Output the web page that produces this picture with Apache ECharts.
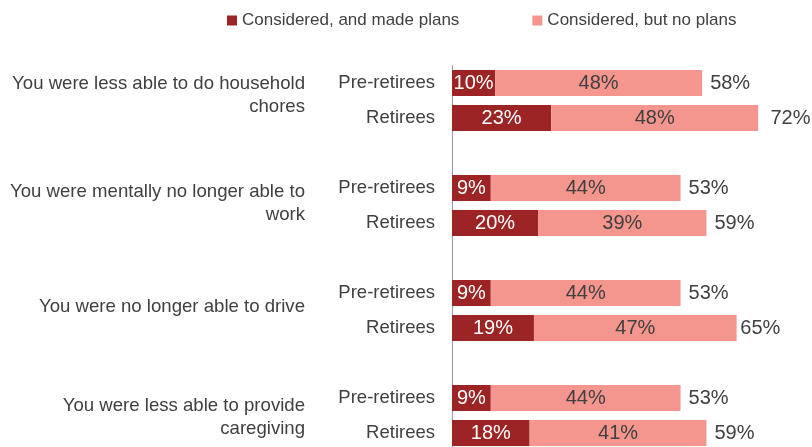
<!DOCTYPE html>
<html>
<head>
<meta charset="utf-8">
<script src="https://cdn.jsdelivr.net/npm/echarts@6/dist/echarts.min.js"></script>
<style>
  html, body { margin: 0; padding: 0; background: #ffffff; }
  #chart { width: 812px; height: 447px; }
</style>
</head>
<body>
<div id="chart"></div>
<script>
// Scenarios asked about, one group of two bars each
const groups = [
  'You were less able to do household\nchores',
  'You were mentally no longer able to\nwork',
  'You were no longer able to drive',
  'You were less able to provide\ncaregiving'
];
const segments = ['Pre-retirees', 'Retirees'];
const seriesNames = ['Considered, and made plans', 'Considered, but no plans'];

// Percent values per group: [pre-retirees, retirees]
const madePlans = [[10, 23], [9, 20], [9, 19], [9, 18]];
const noPlans   = [[48, 48], [44, 39], [44, 47], [44, 41]];
const totals    = [[58, 72], [53, 59], [53, 65], [53, 59]];

const FONT = "'Liberation Sans', Arial, sans-serif";
const TEXT = '#404040';
const DARK = '#9D2424';
const LIGHT = '#F4958E';

// Lay rows out on one category axis, with an empty slot between groups
const rowLabels = [];
const rowMade = [];
const rowNo = [];
const rowTotal = [];
const groupFirstRow = [];
groups.forEach(function (g, gi) {
  if (gi > 0) {
    rowLabels.push('');
    rowMade.push('-');
    rowNo.push('-');
    rowTotal.push('-');
  }
  groupFirstRow.push(rowLabels.length);
  segments.forEach(function (s, si) {
    rowLabels.push(s);
    rowMade.push(madePlans[gi][si]);
    rowNo.push(noPlans[gi][si]);
    rowTotal.push(totals[gi][si]);
  });
});

const chart = echarts.init(document.getElementById('chart'), null, { renderer: 'canvas' });

const pct = function (p) { return p.value + '%'; };

chart.setOption({
  animation: false,
  backgroundColor: '#ffffff',
  textStyle: { fontFamily: FONT },
  legend: {
    data: seriesNames,
    left: 227,
    top: 12,
    padding: 0,
    icon: 'rect',
    itemWidth: 10,
    itemHeight: 10,
    itemGap: 73,
    textStyle: { fontFamily: FONT, fontSize: 17, color: TEXT }
  },
  // the last row runs past the bottom edge, so the grid must not be squeezed to fit
  grid: { left: 452, top: 65.5, width: 345, height: 385, containLabel: false, outerBoundsMode: 'none' },
  xAxis: {
    type: 'value',
    min: 0,
    max: 80,
    show: false
  },
  yAxis: {
    type: 'category',
    inverse: true,
    data: rowLabels,
    axisLine: { show: true, lineStyle: { color: '#999999', width: 1 } },
    axisTick: { show: false },
    axisLabel: { margin: 17, fontFamily: FONT, fontSize: 18.5, color: TEXT }
  },
  series: [
    {
      name: seriesNames[0],
      type: 'bar',
      stack: 'share',
      barWidth: 26,
      barGap: '-100%',
      itemStyle: { color: DARK },
      label: { show: true, position: 'inside', formatter: pct, fontFamily: FONT, fontSize: 20, color: '#ffffff' },
      data: rowMade
    },
    {
      name: seriesNames[1],
      type: 'bar',
      stack: 'share',
      barWidth: 26,
      barGap: '-100%',
      itemStyle: { color: LIGHT },
      label: { show: true, position: 'inside', formatter: pct, fontFamily: FONT, fontSize: 20, color: TEXT },
      data: rowNo
    },
    {
      name: 'Total',
      type: 'bar',
      barWidth: 26,
      barGap: '-100%',
      silent: true,
      z: 1,
      itemStyle: { color: 'rgba(0,0,0,0)' },
      label: { show: true, position: 'right', distance: 8, formatter: pct, fontFamily: FONT, fontSize: 20, color: TEXT },
      data: rowTotal
    }
  ]
});

// Group captions to the left of each pair of bars
const groupDy = [12, 15, 14, 19];
chart.setOption({
  graphic: groups.map(function (g, gi) {
    const y = chart.convertToPixel({ yAxisIndex: 0 }, groupFirstRow[gi]) + groupDy[gi];
    return {
      type: 'text',
      x: 305,
      y: y,
      style: {
        text: g,
        fill: TEXT,
        fontFamily: FONT,
        fontSize: 18.6,
        lineHeight: 23,
        align: 'right',
        verticalAlign: 'middle'
      }
    };
  })
});
</script>
</body>
</html>
